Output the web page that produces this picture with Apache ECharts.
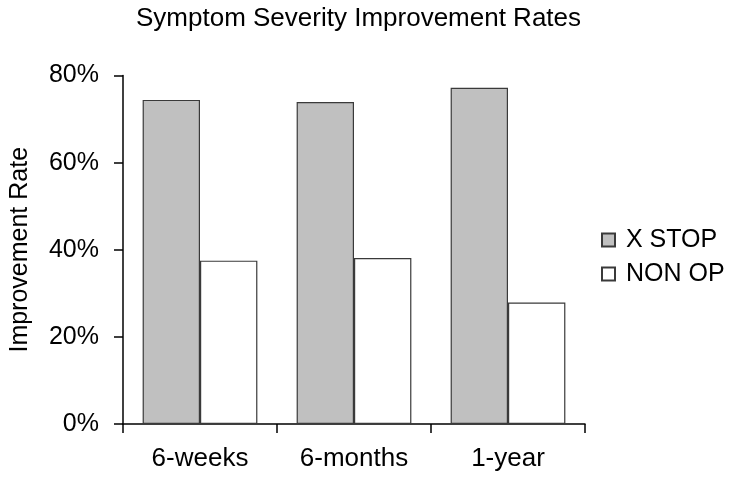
<!DOCTYPE html>
<html>
<head>
<meta charset="utf-8">
<script src="https://cdn.jsdelivr.net/npm/echarts@6/dist/echarts.min.js"></script>
<style>html,body{margin:0;padding:0;background:#fff}#chart{width:732px;height:481px}</style>
</head>
<body>
<div id="chart"></div>
<script>
var categories = ['6-weeks', '6-months', '1-year'];
var xStop = [74.4, 73.9, 77.2];
var nonOp = [37.5, 38.1, 27.9];
var yTicks = [0, 20, 40, 60, 80];

var FONT = '"Liberation Sans", Arial, sans-serif';
var chart = echarts.init(document.getElementById('chart'), null, {renderer: 'canvas'});
chart.setOption({
  animation: false,
  backgroundColor: '#ffffff',
  title: {
    text: 'Symptom Severity Improvement Rates',
    left: 131, top: 1,
    textStyle: {fontFamily: FONT, fontSize: 26, fontWeight: 'normal', color: '#000'}
  },
  legend: {
    orient: 'vertical',
    left: 596, top: 222,
    icon: 'rect',
    itemWidth: 13, itemHeight: 13, itemGap: 8,
    textStyle: {fontFamily: FONT, fontSize: 25, color: '#000', lineHeight: 26, padding: [0,0,0,6]},
    data: ['X STOP', 'NON OP']
  },
  grid: {left: 116, right: 147, top: 75.5, bottom: 57, containLabel: false},
  xAxis: {
    type: 'category',
    data: categories,
    axisLine: {lineStyle: {color: '#000', width: 1.5}},
    axisTick: {show: true, length: 9, lineStyle: {color: '#000', width: 1.5}},
    axisLabel: {fontFamily: FONT, fontSize: 26, color: '#000', margin: 22}
  },
  yAxis: {
    type: 'value',
    min: yTicks[0], max: yTicks[yTicks.length - 1], interval: 20,
    name: 'Improvement Rate',
    nameLocation: 'middle', nameGap: 90,
    nameTextStyle: {fontFamily: FONT, fontSize: 25, color: '#000'},
    splitLine: {show: false},
    axisLine: {show: true, lineStyle: {color: '#000', width: 1.5}},
    axisTick: {show: true, length: 9, lineStyle: {color: '#000', width: 1.5}},
    axisLabel: {fontFamily: FONT, fontSize: 25, color: '#000', margin: 24, formatter: '{value}%'}
  },
  series: [
    {
      name: 'X STOP', type: 'bar', data: xStop,
      barGap: '0%', barCategoryGap: '25.5%',
      itemStyle: {color: '#c0c0c0', borderColor: '#3a3a3a', borderWidth: 1.2}
    },
    {
      name: 'NON OP', type: 'bar', data: nonOp,
      barGap: '0%', barCategoryGap: '25.5%',
      itemStyle: {color: '#ffffff', borderColor: '#3a3a3a', borderWidth: 1.2}
    }
  ]
});
</script>
</body>
</html>
